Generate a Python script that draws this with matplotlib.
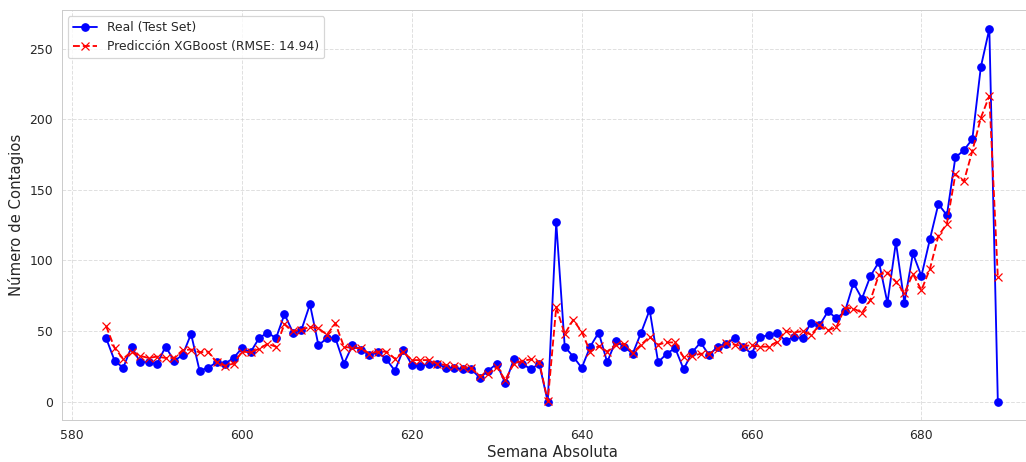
import numpy as np
import matplotlib
matplotlib.use("Agg")
import matplotlib.pyplot as plt
import seaborn as sns

weeks = np.arange(584, 690)

real = [45, 29, 24, 39, 28, 28, 27, 39, 29, 33, 48, 22, 24, 28, 27, 31, 38, 35, 45, 49,
        45, 62, 49, 51, 69, 40, 45, 45, 27, 40, 37, 33, 35, 30, 22, 37, 26, 25, 27, 27,
        24, 24, 23, 23, 17, 22, 27, 13, 30, 27, 23, 27, 0, 127, 39, 32, 24, 39, 49, 28,
        43, 39, 34, 49, 65, 28, 34, 38, 23, 35, 42, 33, 39, 41, 45, 39, 34, 46, 47, 49,
        43, 46, 45, 56, 54, 64, 59, 64, 84, 73, 89, 99, 70, 113, 70, 105, 89, 115, 140, 132,
        173, 178, 186, 237, 264, 0]

pred = [53.5, 38, 30.5, 35.5, 32.5, 31, 32, 31, 31, 36.5, 37, 35, 35.5, 28, 25.5, 27, 35.5, 35, 37.5, 41,
        39, 55, 50, 51, 53, 52, 47.5, 55.5, 39, 38, 38, 34, 35.5, 35.5, 30.5, 35.5, 29.5, 29.5, 29.5, 27,
        26, 25, 24.5, 24, 18, 20, 24.5, 15.5, 27, 29, 30, 28, 0.5, 67, 48, 58, 49.5, 35.5, 39.5, 35.5,
        40.5, 41, 34.5, 40.5, 46, 40.5, 42, 42, 31.5, 32.5, 34, 34, 37.5, 41.5, 40.5, 39.5, 40, 39, 39, 42.5,
        50, 49, 50, 47.5, 54, 50.5, 53, 66.5, 66, 63, 72, 90, 91.5, 85, 77, 90.5, 79, 94, 117.5, 126,
        161, 156, 177.5, 201, 216.5, 88]

rmse = 14.94

sns.set_style("whitegrid", {"grid.linestyle": "--"})

# drawn at a lower dpi so fonts and markers come out at the reference's scale
fig, ax = plt.subplots(figsize=(1026 / 89, 462 / 89), dpi=89)
ax.plot(weeks, real, color="blue", marker="o", label="Real (Test Set)")
ax.plot(weeks, pred, color="red", marker="x", linestyle="--",
        label=f"Predicción XGBoost (RMSE: {rmse})")
ax.grid(True, linestyle="--", alpha=0.6)
ax.set_xlabel("Semana Absoluta", fontsize=12, labelpad=2)
ax.set_ylabel("Número de Contagios", fontsize=12)
ax.legend(loc="upper left")
fig.subplots_adjust(left=0.06, right=1.016, top=0.978, bottom=0.09)
fig.savefig("out.png", dpi=89)
